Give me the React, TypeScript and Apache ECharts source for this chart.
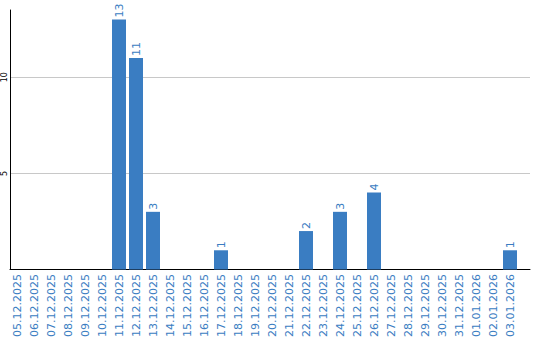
import React, { useEffect, useRef } from 'react';
import * as echarts from 'echarts';

const categories = [
  '05.12.2025', '06.12.2025', '07.12.2025', '08.12.2025', '09.12.2025', '10.12.2025',
  '11.12.2025', '12.12.2025', '13.12.2025', '14.12.2025', '15.12.2025', '16.12.2025',
  '17.12.2025', '18.12.2025', '19.12.2025', '20.12.2025', '21.12.2025', '22.12.2025',
  '23.12.2025', '24.12.2025', '25.12.2025', '26.12.2025', '27.12.2025', '28.12.2025',
  '29.12.2025', '30.12.2025', '31.12.2025', '01.01.2026', '02.01.2026', '03.01.2026',
];
const counts = [0, 0, 0, 0, 0, 0, 13, 11, 3, 0, 0, 0, 1, 0, 0, 0, 0, 2, 0, 3, 0, 4, 0, 0, 0, 0, 0, 0, 0, 1];
const yMin = 0;
const yMax = 13.5;
const yInterval = 5;

export default function App() {
  const ref = useRef<HTMLDivElement>(null);
  useEffect(() => {
    const chart = echarts.init(ref.current!, null, { renderer: 'svg' });
    const font = 'DejaVu Sans';
    const blue = '#3a7dc2';
    chart.setOption({
      animation: false,
      backgroundColor: '#ffffff',
      grid: [
        { left: 8.5, top: 10, width: 510, bottom: 70.5 },
        { left: 10, top: 10, right: 10, bottom: 70.5 },
      ],
      xAxis: [
        {
          type: 'category', gridIndex: 0, data: categories,
          axisLine: { show: false }, axisTick: { show: false },
          axisLabel: { rotate: 90, margin: 4.5, color: blue, fontSize: 11, fontFamily: font, interval: 0 },
        },
        {
          type: 'value', gridIndex: 1, min: 0, max: 1,
          axisLine: { show: true, onZero: false, lineStyle: { color: '#000', width: 1 } },
          axisTick: { show: false }, axisLabel: { show: false }, splitLine: { show: false },
        },
      ],
      yAxis: [
        { type: 'value', gridIndex: 0, min: yMin, max: yMax, interval: yInterval, show: false, splitLine: { show: false } },
        {
          type: 'value', gridIndex: 1, min: yMin, max: yMax, interval: yInterval,
          axisLine: { show: true, lineStyle: { color: '#000', width: 1 } },
          axisTick: { show: false },
          axisLabel: { rotate: 90, fontSize: 8, color: '#000', margin: 2, showMaxLabel: false, showMinLabel: false, fontFamily: font },
          splitLine: { show: true, showMinLine: false, showMaxLine: false, lineStyle: { color: '#c8c8c8', width: 1 } },
        },
      ],
      series: [
        {
          type: 'bar', xAxisIndex: 0, yAxisIndex: 0, data: counts, barWidth: 14,
          itemStyle: { color: blue },
          label: {
            show: true, position: 'top', rotate: 90, align: 'left', verticalAlign: 'middle', distance: 2,
            color: blue, fontSize: 11, fontFamily: font,
            formatter: (p: any) => (p.value ? String(p.value) : ''),
          },
        },
      ],
    });
    return () => chart.dispose();
  }, []);
  return <div ref={ref} style={{ position: 'fixed', left: 0, top: 0, width: 540, height: 340 }} />;
}
